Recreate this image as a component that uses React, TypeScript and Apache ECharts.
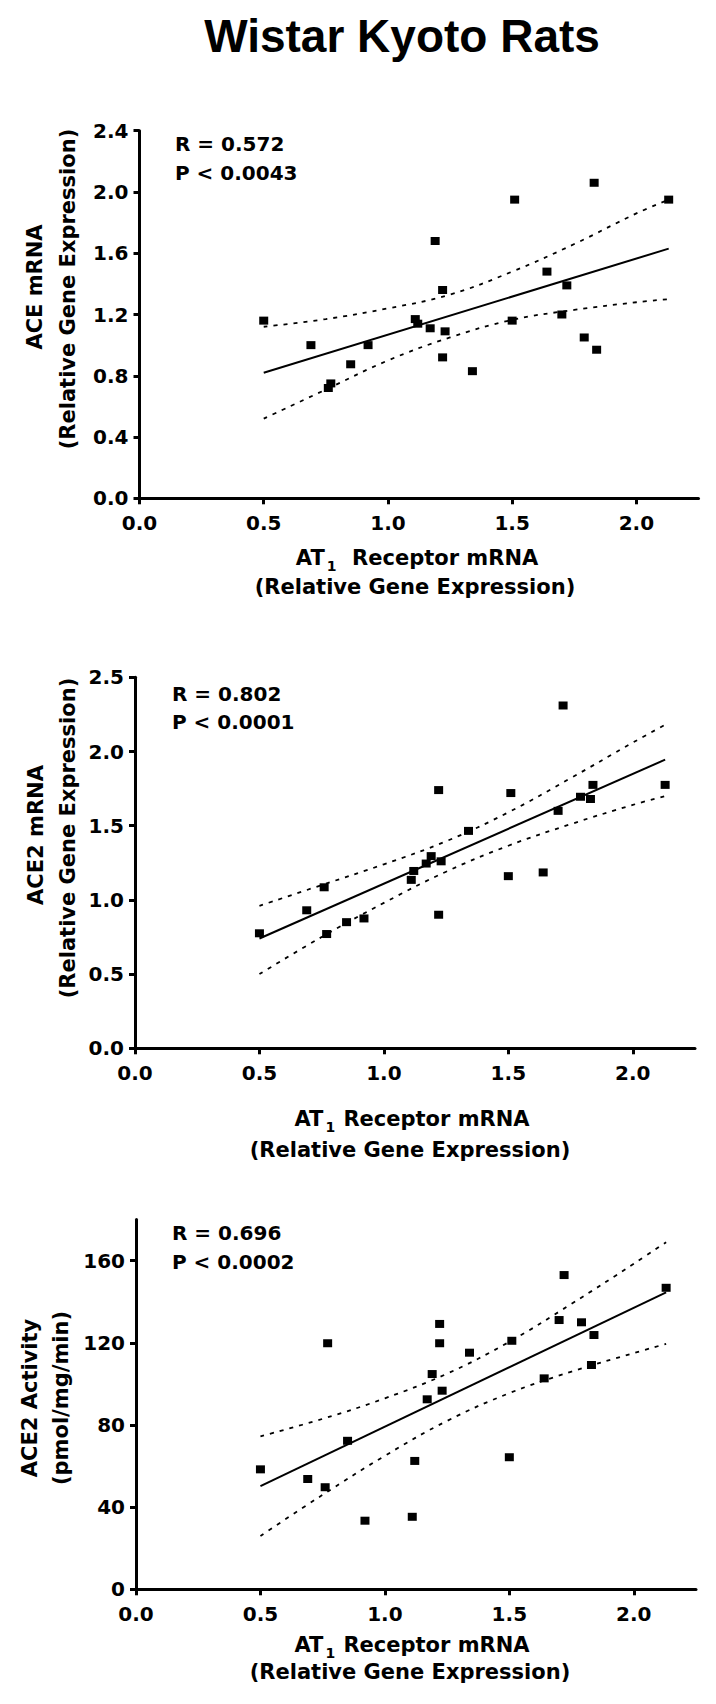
import React, { useEffect, useRef } from 'react';
import * as echarts from 'echarts';

// ---- data ----
const xTickValues = [0, 0.5, 1.0, 1.5, 2.0];
const yTicks1 = [0, 0.4, 0.8, 1.2, 1.6, 2.0, 2.4];
const yTicks2 = [0, 0.5, 1.0, 1.5, 2.0, 2.5];
const yTicks3 = [0, 40, 80, 120, 160];

const at1Receptor = [0.50, 0.69, 0.76, 0.77, 0.85, 0.92, 1.11, 1.12, 1.17, 1.19, 1.22, 1.22, 1.23, 1.34, 1.50, 1.51, 1.64, 1.70, 1.72, 1.79, 1.83, 1.84, 2.13];
const aceMrna = [1.16, 1.00, 0.72, 0.75, 0.875, 1.00, 1.17, 1.14, 1.11, 1.68, 1.36, 0.92, 1.09, 0.83, 1.16, 1.95, 1.48, 1.20, 1.39, 1.05, 2.06, 0.97, 1.95];
const ace2Mrna = [0.775, 0.93, 1.085, 0.77, 0.85, 0.875, 1.135, 1.195, 1.245, 1.295, 1.74, 0.90, 1.26, 1.465, 1.16, 1.72, 1.185, 1.60, 2.31, 1.695, 1.68, 1.775, 1.775];
const ace2Activity = [58.4, 53.7, 49.7, 119.8, 72.3, 33.4, 35.3, 62.5, 92.5, 104.8, 129.2, 119.8, 96.7, 115.2, 64.3, 121, 102.7, 131.1, 153, 130, 109.2, 123.8, 146.8];

const fitX = [0.50, 2.13];
const fit1 = [0.82, 1.63];
const fit2 = [0.74, 1.945];
const fit3 = [50.2, 144.6];

const bandX = [0.5, 0.75, 1.0, 1.25, 1.5, 1.75, 2.0, 2.13];
const upper1 = [1.12, 1.17, 1.24, 1.33, 1.48, 1.66, 1.86, 1.95];
const lower1 = [0.52, 0.71, 0.90, 1.05, 1.165, 1.23, 1.28, 1.30];
const upper2 = [0.96, 1.10, 1.24, 1.395, 1.59, 1.82, 2.06, 2.18];
const lower2 = [0.50, 0.75, 0.98, 1.19, 1.365, 1.51, 1.64, 1.70];
const upper3 = [74.5, 83, 93, 105, 120.5, 139, 158.5, 169];
const lower3 = [26, 46, 65, 82, 95.5, 106, 115, 119.5];

const stats = [
  ['R = 0.572', 'P < 0.0043'],
  ['R = 0.802', 'P < 0.0001'],
  ['R = 0.696', 'P < 0.0002'],
];

const FONT = '"DejaVu Sans", sans-serif';

const pairs = (xs: number[], ys: number[]) => xs.map((x, i) => [x, ys[i]]);

function App() {
  const ref = useRef<HTMLDivElement>(null);
  useEffect(() => {
    if (!ref.current) return;
    const chart = echarts.init(ref.current, undefined, { renderer: 'svg' });

    const grids = [
      { left: 139.5, top: 130.7, width: 559, height: 367.6 },
      { left: 135, top: 677.3, width: 560, height: 371 },
      { left: 136, top: 1219.6, width: 560, height: 369.7 },
    ];

    const axisLine = { show: true, onZero: false, lineStyle: { color: '#000', width: 3 } };
    const axisTickX = { show: true, length: 6, customValues: xTickValues, lineStyle: { color: '#000', width: 3 } };
    const labelBase = { color: '#000', fontSize: 20, fontWeight: 'bold' as const, fontFamily: FONT };

    const xAxes = grids.map((_, i) => ({
      type: 'value',
      gridIndex: i,
      min: 0,
      max: 2.25,
      axisLine,
      axisTick: axisTickX,
      splitLine: { show: false },
      axisLabel: { ...labelBase, margin: 15, customValues: xTickValues, formatter: (v: number) => v.toFixed(1) },
    }));

    const yConf = [
      { max: 2.4, ticks: yTicks1, fmt: (v: number) => v.toFixed(1) },
      { max: 2.5, ticks: yTicks2, fmt: (v: number) => v.toFixed(1) },
      { max: 180, ticks: yTicks3, fmt: (v: number) => String(v) },
    ];
    const yAxes = yConf.map((c, i) => ({
      type: 'value',
      gridIndex: i,
      min: 0,
      max: c.max,
      axisLine,
      axisTick: { show: true, length: 6, customValues: c.ticks, lineStyle: { color: '#000', width: 3 } },
      splitLine: { show: false },
      axisLabel: { ...labelBase, margin: 11, customValues: c.ticks, formatter: c.fmt },
    }));

    const ys = [aceMrna, ace2Mrna, ace2Activity];
    const fits = [fit1, fit2, fit3];
    const ups = [upper1, upper2, upper3];
    const lows = [lower1, lower2, lower3];

    const series: any[] = [];
    for (let i = 0; i < 3; i++) {
      series.push({
        type: 'line', xAxisIndex: i, yAxisIndex: i, data: pairs(fitX, fits[i]),
        showSymbol: false, lineStyle: { color: '#000', width: 2 }, silent: true,
      });
      series.push({
        type: 'line', xAxisIndex: i, yAxisIndex: i, data: pairs(bandX, ups[i]), smooth: 0.4,
        showSymbol: false, lineStyle: { color: '#000', width: 1.8, type: [4, 6] }, silent: true,
      });
      series.push({
        type: 'line', xAxisIndex: i, yAxisIndex: i, data: pairs(bandX, lows[i]), smooth: 0.4,
        showSymbol: false, lineStyle: { color: '#000', width: 1.8, type: [4, 6] }, silent: true,
      });
      series.push({
        type: 'scatter', xAxisIndex: i, yAxisIndex: i, data: pairs(at1Receptor, ys[i]),
        symbol: 'rect', symbolSize: [9, 8], itemStyle: { color: '#000', opacity: 1 },
      });
    }

    const txt = (x: number, y: number, text: string, size: number, extra: any = {}) => ({
      type: 'text', x, y, ...extra,
      style: {
        text, fill: '#000', fontSize: size, fontWeight: 'bold', fontFamily: FONT,
        align: extra.align || 'center', verticalAlign: 'middle',
      },
    });
    const rot = { rotation: Math.PI / 2 };

    const subName = (x: number, y: number, gap: string) => ({
      type: 'text', x, y,
      style: {
        text: `{a|AT}{b|1}{a|${gap}Receptor mRNA}`,
        fill: '#000', align: 'center', verticalAlign: 'middle',
        rich: {
          a: { fontSize: 21, fontWeight: 'bold', fontFamily: FONT, fill: '#000', lineHeight: 30, verticalAlign: 'middle' },
          b: { fontSize: 14, fontWeight: 'bold', fontFamily: FONT, fill: '#000', lineHeight: 14, verticalAlign: 'bottom', padding: [0, 1, 0, 2] },
        },
      },
    });

    const statPos = [
      [175, 144, 173],
      [172, 693.5, 722],
      [172, 1233, 1262],
    ];

    const elements: any[] = [
      {
        type: 'text', x: 402, y: 36,
        style: { text: 'Wistar Kyoto Rats', fill: '#000', fontSize: 46, fontWeight: 'bold', fontFamily: '"Liberation Sans", Arial, sans-serif', align: 'center', verticalAlign: 'middle' },
      },
      // y-axis names
      txt(35, 287, 'ACE mRNA', 21, rot),
      txt(68, 289, '(Relative Gene Expression)', 21, rot),
      txt(36, 835, 'ACE2 mRNA', 21, rot),
      txt(68, 838, '(Relative Gene Expression)', 21, rot),
      txt(30, 1398, 'ACE2 Activity', 21, rot),
      txt(61, 1398, '(pmol/mg/min)', 21, rot),
      // x-axis names
      subName(417, 558, '  '),
      txt(415, 587, '(Relative Gene Expression)', 21),
      subName(412, 1119, ' '),
      txt(410, 1150, '(Relative Gene Expression)', 21),
      subName(412, 1645, ' '),
      txt(410, 1672, '(Relative Gene Expression)', 21),
    ];
    stats.forEach((s, i) => {
      const [x, y1, y2] = statPos[i];
      elements.push(txt(x, y1, s[0], 20, { align: 'left' }));
      elements.push(txt(x, y2, s[1], 20, { align: 'left' }));
    });

    chart.setOption({
      animation: false,
      backgroundColor: '#fff',
      grid: grids.map((g) => ({ ...g, containLabel: false })),
      xAxis: xAxes,
      yAxis: yAxes,
      series,
      graphic: { elements },
    });
    return () => chart.dispose();
  }, []);
  return <div ref={ref} style={{ position: 'absolute', left: 0, top: 0, width: 716, height: 1704, background: '#fff' }} />;
}

export default App;
